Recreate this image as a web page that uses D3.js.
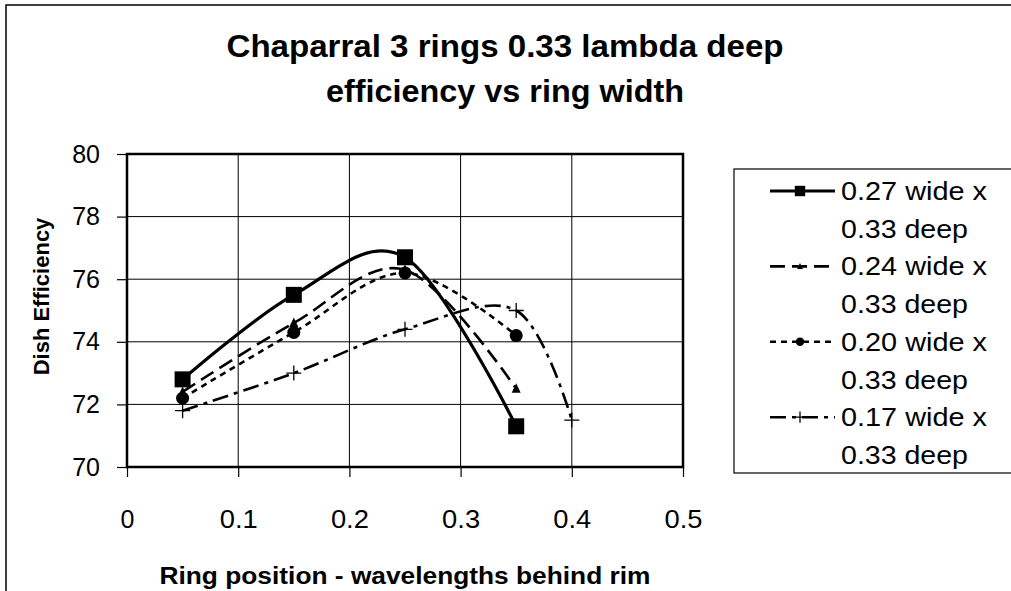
<!DOCTYPE html>
<html>
<head>
<meta charset="utf-8">
<script src="https://cdn.jsdelivr.net/npm/d3@7/dist/d3.min.js"></script>
<style>
  html, body { margin: 0; padding: 0; background: #fff; }
  svg { display: block; font-family: "Liberation Sans", Arial, sans-serif; }
</style>
</head>
<body>
<svg id="chart" width="1011" height="591"></svg>
<script>
// ---- data ----
const titleLines = ["Chaparral 3 rings 0.33 lambda deep", "efficiency vs ring width"];
const xTitle = "Ring position - wavelengths behind rim";
const yTitle = "Dish Efficiency";
const xTicks = [0, 0.1, 0.2, 0.3, 0.4, 0.5];
const yTicks = [70, 72, 74, 76, 78, 80];
const seriesNames = [["0.27 wide x", "0.33 deep"], ["0.24 wide x", "0.33 deep"], ["0.20 wide x", "0.33 deep"], ["0.17 wide x", "0.33 deep"]];
const s027x = [0.05, 0.15, 0.25, 0.35];
const s027y = [72.8, 75.5, 76.7, 71.3];
const s024x = [0.05, 0.15, 0.25, 0.35];
const s024y = [72.4, 74.6, 76.3, 72.5];
const s020x = [0.05, 0.15, 0.25, 0.35];
const s020y = [72.2, 74.3, 76.2, 74.2];
const s017x = [0.05, 0.15, 0.25, 0.35, 0.4];
const s017y = [71.8, 73.0, 74.4, 75.0, 71.5];

const svg = d3.select("#chart");
const W = 1011, H = 591;
const plot = {left: 127, top: 154, right: 683, bottom: 467};

const x = d3.scaleLinear().domain([0, 0.5]).range([plot.left, plot.right]);
const y = d3.scaleLinear().domain([70, 80]).range([plot.bottom, plot.top]);

// outer frame
svg.append("rect").attr("x", 6).attr("y", 5).attr("width", W + 20).attr("height", H + 20)
  .attr("fill", "#fff").attr("stroke", "#000").attr("stroke-width", 1.5);

// helper: stretch text horizontally to a width
function stretch(sel, w) {
  sel.attr("textLength", w).attr("lengthAdjust", "spacingAndGlyphs");
}

// title
const titleW = [557, 358];
svg.append("g").selectAll("text").data(titleLines).join("text")
  .attr("x", 505).attr("y", (d, i) => 57 + i * 45)
  .attr("text-anchor", "middle").attr("font-weight", "bold").attr("font-size", 31)
  .attr("fill", "#000").text(d => d)
  .each(function(d, i) { stretch(d3.select(this), titleW[i]); });

// gridlines
const grid = svg.append("g");
grid.selectAll("line.v").data(xTicks.slice(1, -1)).join("line")
  .attr("x1", d => x(d)).attr("x2", d => x(d)).attr("y1", plot.top).attr("y2", plot.bottom)
  .attr("stroke", "#000").attr("stroke-width", 1);
grid.selectAll("line.h").data(yTicks.slice(1, -1)).join("line")
  .attr("y1", d => y(d)).attr("y2", d => y(d)).attr("x1", plot.left).attr("x2", plot.right)
  .attr("stroke", "#000").attr("stroke-width", 1);

// axes
const xAxis = d3.axisBottom(x).tickValues(xTicks).tickSize(10).tickPadding(33)
  .tickFormat(d => d === 0 ? "0" : d3.format(".1f")(d));
const gx = svg.append("g").attr("transform", `translate(0,${plot.bottom})`).call(xAxis);
gx.select(".domain").remove();
gx.selectAll(".tick line").attr("stroke", "#000").attr("stroke-width", 1.2);
gx.selectAll(".tick text").attr("font-size", 25).attr("fill", "#000")
  .attr("font-family", "'Liberation Sans', Arial, sans-serif").attr("dy", "0.71em")
  .each(function(d) { if (d !== 0) stretch(d3.select(this), 38); });

const yAxis = d3.axisLeft(y).tickValues(yTicks).tickSize(10).tickPadding(17);
const gy = svg.append("g").attr("transform", `translate(${plot.left},0)`).call(yAxis);
gy.select(".domain").remove();
gy.selectAll(".tick line").attr("stroke", "#000").attr("stroke-width", 1.2);
gy.selectAll(".tick text").attr("font-size", 25).attr("fill", "#000")
  .attr("font-family", "'Liberation Sans', Arial, sans-serif");

// plot border
svg.append("rect").attr("x", plot.left).attr("y", plot.top)
  .attr("width", plot.right - plot.left).attr("height", plot.bottom - plot.top)
  .attr("fill", "none").attr("stroke", "#000").attr("stroke-width", 2.5);

// axis titles
svg.append("text").attr("x", (plot.left + plot.right) / 2).attr("y", 584)
  .attr("text-anchor", "middle").attr("font-weight", "bold").attr("font-size", 23)
  .attr("fill", "#000").text(xTitle).call(stretch, 491);
svg.append("text").attr("transform", `translate(49,${(plot.top + plot.bottom) / 2 - 14}) rotate(-90)`)
  .attr("text-anchor", "middle").attr("font-weight", "bold").attr("font-size", 22)
  .attr("fill", "#000").text(yTitle);

// series
const series = [
  {xs: s027x, ys: s027y, dash: null, width: 3.2, marker: "square"},
  {xs: s024x, ys: s024y, dash: "15,7", width: 2.6, marker: "triangle"},
  {xs: s020x, ys: s020y, dash: "6,5", width: 2.6, marker: "circle"},
  {xs: s017x, ys: s017y, dash: "16,6,4,6", width: 2.6, marker: "plus"}
];

const line = d3.line().x(d => x(d[0])).y(d => y(d[1])).curve(d3.curveCatmullRom.alpha(0));

function drawMarker(g, type, cx, cy, scale) {
  if (type === "square") {
    const s = 16 * scale;
    g.append("rect").attr("x", cx - s / 2).attr("y", cy - s / 2).attr("width", s).attr("height", s).attr("fill", "#000");
  } else if (type === "circle") {
    g.append("circle").attr("cx", cx).attr("cy", cy).attr("r", 6.5 * scale).attr("fill", "#000");
  } else if (type === "triangle") {
    const s = 9 * scale;
    g.append("path").attr("d", `M${cx},${cy - s * 0.6}L${cx + s / 2},${cy + s * 0.45}L${cx - s / 2},${cy + s * 0.45}Z`).attr("fill", "#000");
  } else if (type === "plus") {
    const s = 7.5 * scale;
    g.append("path").attr("d", `M${cx - s},${cy}H${cx + s}M${cx},${cy - s}V${cy + s}`)
      .attr("stroke", "#000").attr("stroke-width", 1.3).attr("fill", "none");
  }
}

const gs = svg.append("g");
// draw in reverse order so the first series is on top
series.slice().reverse().forEach(s => {
  const pts = s.xs.map((v, i) => [v, s.ys[i]]);
  gs.append("path").attr("d", line(pts)).attr("fill", "none").attr("stroke", "#000")
    .attr("stroke-width", s.width).attr("stroke-dasharray", s.dash);
  pts.forEach(p => drawMarker(gs, s.marker, x(p[0]), y(p[1]), 1));
});

// legend
const legendW = [146, 127];
const lg = svg.append("g");
lg.append("rect").attr("x", 734).attr("y", 169).attr("width", 300).attr("height", 473 - 169)
  .attr("fill", "#fff").attr("stroke", "#000").attr("stroke-width", 1.2);
series.forEach((s, i) => {
  const cy = 191 + i * 75.4;
  lg.append("line").attr("x1", 770).attr("x2", 835).attr("y1", cy).attr("y2", cy)
    .attr("stroke", "#000").attr("stroke-width", s.width).attr("stroke-dasharray", s.dash);
  drawMarker(lg, s.marker, 800, cy, s.marker === "plus" ? 0.75 : 0.65);
  lg.selectAll(null).data(seriesNames[i]).join("text")
    .attr("x", 841).attr("y", (d, j) => cy + 9 + j * 37.7)
    .attr("font-size", 25).attr("fill", "#000").text(d => d)
    .each(function(d, j) { stretch(d3.select(this), legendW[j]); });
});
</script>
</body>
</html>
